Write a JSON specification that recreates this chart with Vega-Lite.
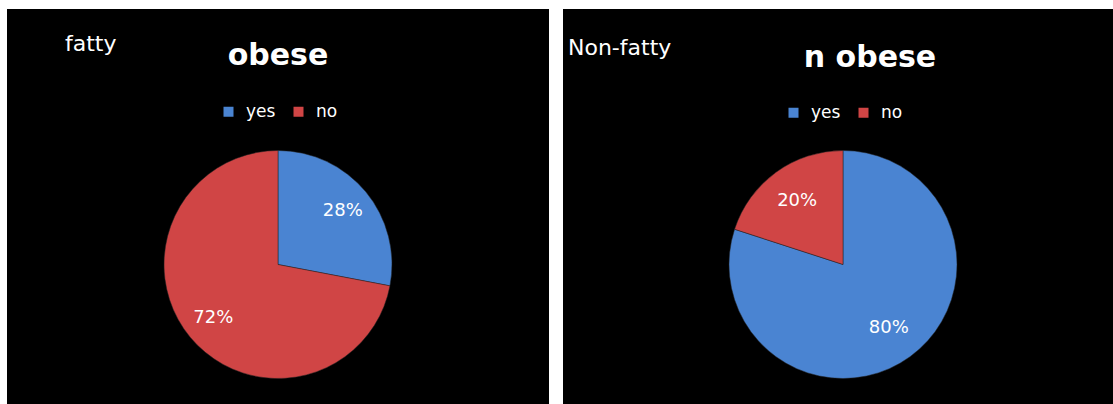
{
  "$schema": "https://vega.github.io/schema/vega-lite/v6.json",
  "background": "white",
  "padding": {"left": 7, "top": 9, "right": 0, "bottom": 0},
  "spacing": 14,
  "datasets": {
    "fatty": [
      {"answer": "yes", "value": 28, "label": "28%"},
      {"answer": "no", "value": 72, "label": "72%"}
    ],
    "nonfatty": [
      {"answer": "yes", "value": 80, "label": "80%"},
      {"answer": "no", "value": 20, "label": "20%"}
    ]
  },
  "resolve": {"scale": {"color": "independent", "theta": "independent"}, "legend": {"color": "independent"}},
  "hconcat": [
    {
      "title": {"text": "fatty", "anchor": "start", "frame": "group", "orient": "top", "offset": -64, "dx": 58, "baseline": "alphabetic", "font": "DejaVu Sans", "fontSize": 22, "fontWeight": "normal", "color": "white"},
      "resolve": {"scale": {"color": "independent", "theta": "independent"}, "legend": {"color": "independent"}},
      "vconcat": [
        {
          "title": {"text": "obese", "anchor": "middle", "frame": "group", "orient": "top", "offset": -86, "baseline": "alphabetic", "font": "DejaVu Sans", "fontSize": 30, "fontWeight": "bold", "color": "white"},
          "width": 542,
          "height": 395,
          "data": {"name": "fatty"},
          "view": {"fill": "black", "stroke": null},
          "layer": [
            {"mark": {"type": "rect", "color": "black"}, "encoding": {}},
            {
              "mark": {"type": "arc", "outerRadius": 114, "yOffset": 58, "stroke": "#222", "strokeWidth": 0.5},
              "encoding": {
                "theta": {"field": "value", "type": "quantitative", "stack": true},
                "order": {"field": "answer", "sort": "descending"},
                "color": {
                  "field": "answer", "type": "nominal",
                  "scale": {"domain": ["yes", "no"], "range": ["#4a84d2", "#d04545"]},
                  "legend": {"orient": "none", "legendX": 213, "legendY": 94, "direction": "horizontal", "title": null, "symbolType": "square", "symbolSize": 100, "symbolStrokeWidth": 0, "labelColor": "white", "labelFontSize": 17, "labelFont": "DejaVu Sans", "columnPadding": 14, "labelOffset": 9}
                }
              }
            },
            {
              "mark": {"type": "text", "radius": 84, "yOffset": 58, "font": "DejaVu Sans", "fontSize": 18, "color": "white"},
              "encoding": {
                "theta": {"field": "value", "type": "quantitative", "stack": true},
                "order": {"field": "answer", "sort": "descending"},
                "text": {"field": "label"}
              }
            }
          ]
        }
      ]
    },
    {
      "title": {"text": "Non-fatty", "anchor": "start", "frame": "group", "orient": "top", "offset": -68, "dx": 5, "baseline": "alphabetic", "font": "DejaVu Sans", "fontSize": 22, "fontWeight": "normal", "color": "white"},
      "resolve": {"scale": {"color": "independent", "theta": "independent"}, "legend": {"color": "independent"}},
      "vconcat": [
        {
          "title": {"text": "n obese", "anchor": "middle", "frame": "group", "orient": "top", "offset": -88, "dx": 32, "baseline": "alphabetic", "font": "DejaVu Sans", "fontSize": 30, "fontWeight": "bold", "color": "white"},
          "width": 550,
          "height": 395,
          "data": {"name": "nonfatty"},
          "view": {"fill": "black", "stroke": null},
          "layer": [
            {"mark": {"type": "rect", "color": "black"}, "encoding": {}},
            {
              "mark": {"type": "arc", "outerRadius": 114, "xOffset": 5, "yOffset": 58, "stroke": "#222", "strokeWidth": 0.5},
              "encoding": {
                "theta": {"field": "value", "type": "quantitative", "stack": true},
                "order": {"field": "answer", "sort": "descending"},
                "color": {
                  "field": "answer", "type": "nominal",
                  "scale": {"domain": ["yes", "no"], "range": ["#4a84d2", "#d04545"]},
                  "legend": {"orient": "none", "legendX": 222, "legendY": 95, "direction": "horizontal", "title": null, "symbolType": "square", "symbolSize": 100, "symbolStrokeWidth": 0, "labelColor": "white", "labelFontSize": 17, "labelFont": "DejaVu Sans", "columnPadding": 14, "labelOffset": 9}
                }
              }
            },
            {
              "mark": {"type": "text", "radius": 78, "xOffset": 5, "yOffset": 58, "font": "DejaVu Sans", "fontSize": 18, "color": "white"},
              "encoding": {
                "theta": {"field": "value", "type": "quantitative", "stack": true},
                "order": {"field": "answer", "sort": "descending"},
                "text": {"field": "label"}
              }
            }
          ]
        }
      ]
    }
  ]
}
